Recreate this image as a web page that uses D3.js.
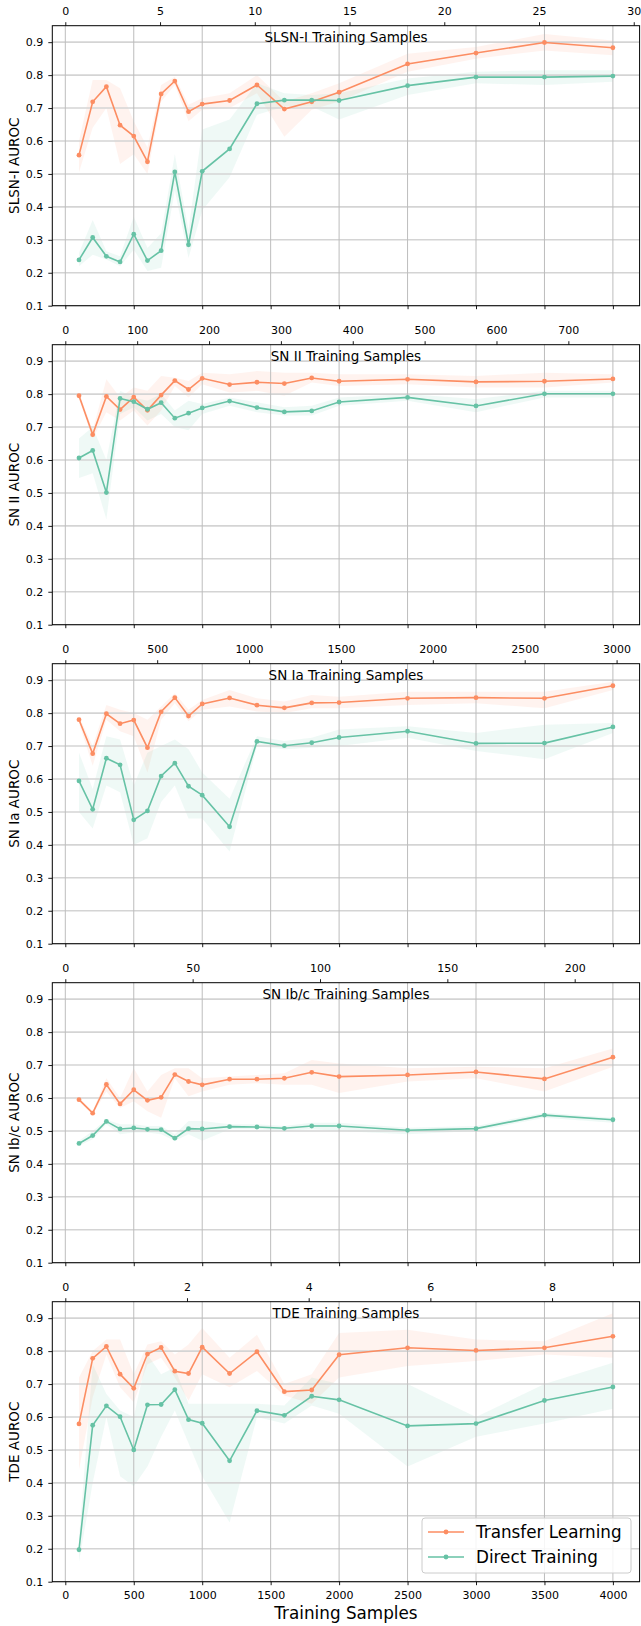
<!DOCTYPE html>
<html>
<head>
<meta charset="utf-8">
<script src="https://cdn.jsdelivr.net/npm/d3@7"></script>
<style>
  body { margin: 0; background: #fff; }
  svg text { font-family: 'DejaVu Sans', sans-serif; fill: #000; }
</style>
</head>
<body>
<svg id="chart"></svg>
<script>
// total training samples (bottom axis)
const trainingSamples = [100, 200, 300, 400, 500, 600, 700, 800, 900, 1000, 1200, 1400, 1600, 1800, 2000, 2500, 3000, 3500, 4000];
const bottomTicks = [0, 500, 1000, 1500, 2000, 2500, 3000, 3500, 4000];
const yTicks = [0.1, 0.2, 0.3, 0.4, 0.5, 0.6, 0.7, 0.8, 0.9];

const classNames = ['SLSN-I', 'SN II', 'SN Ia', 'SN Ib/c', 'TDE'];
// class samples that match 4000 total samples (top axis)
const classSamplesAt4000 = [28.9, 762, 2980, 215, 9.0];
const topTicks = [
  [0, 5, 10, 15, 20, 25, 30],
  [0, 100, 200, 300, 400, 500, 600, 700],
  [0, 500, 1000, 1500, 2000, 2500, 3000],
  [0, 50, 100, 150, 200],
  [0, 2, 4, 6, 8]
];

// SLSN-I
const slsnTL   = [0.557, 0.719, 0.765, 0.648, 0.615, 0.537, 0.743, 0.782, 0.689, 0.712, 0.723, 0.770, 0.697, 0.719, 0.748, 0.834, 0.867, 0.899, 0.883];
const slsnTLlo = [0.505, 0.64, 0.70, 0.53, 0.56, 0.50, 0.72, 0.77, 0.66, 0.695, 0.70, 0.745, 0.613, 0.695, 0.72, 0.81, 0.85, 0.875, 0.86];
const slsnTLhi = [0.60, 0.785, 0.785, 0.76, 0.66, 0.58, 0.77, 0.795, 0.71, 0.73, 0.745, 0.80, 0.72, 0.745, 0.775, 0.865, 0.885, 0.925, 0.905];
const slsnDT   = [0.239, 0.307, 0.250, 0.233, 0.317, 0.237, 0.267, 0.506, 0.285, 0.508, 0.576, 0.713, 0.724, 0.724, 0.723, 0.768, 0.794, 0.794, 0.797];
const slsnDTlo = [0.22, 0.255, 0.24, 0.22, 0.27, 0.205, 0.215, 0.45, 0.245, 0.39, 0.49, 0.68, 0.705, 0.705, 0.665, 0.74, 0.775, 0.77, 0.78];
const slsnDThi = [0.26, 0.36, 0.265, 0.25, 0.37, 0.275, 0.32, 0.56, 0.33, 0.635, 0.665, 0.775, 0.745, 0.74, 0.745, 0.79, 0.81, 0.815, 0.815];

// SN II
const sn2TL   = [0.795, 0.677, 0.793, 0.753, 0.791, 0.751, 0.797, 0.841, 0.814, 0.848, 0.829, 0.836, 0.832, 0.849, 0.839, 0.845, 0.837, 0.839, 0.846];
const sn2TLlo = [0.785, 0.665, 0.745, 0.72, 0.75, 0.705, 0.75, 0.825, 0.79, 0.83, 0.805, 0.81, 0.795, 0.835, 0.825, 0.83, 0.82, 0.82, 0.835];
const sn2TLhi = [0.805, 0.69, 0.845, 0.79, 0.82, 0.81, 0.855, 0.85, 0.84, 0.865, 0.86, 0.87, 0.865, 0.865, 0.86, 0.86, 0.855, 0.865, 0.86];
const sn2DT   = [0.606, 0.629, 0.501, 0.787, 0.777, 0.754, 0.774, 0.727, 0.742, 0.758, 0.779, 0.759, 0.746, 0.749, 0.776, 0.790, 0.764, 0.801, 0.801];
const sn2DTlo = [0.545, 0.56, 0.42, 0.74, 0.76, 0.72, 0.74, 0.70, 0.69, 0.74, 0.765, 0.745, 0.735, 0.735, 0.765, 0.78, 0.745, 0.79, 0.79];
const sn2DThi = [0.665, 0.70, 0.60, 0.81, 0.79, 0.78, 0.80, 0.75, 0.78, 0.77, 0.79, 0.775, 0.76, 0.765, 0.79, 0.80, 0.785, 0.81, 0.81];

// SN Ia
const sn1aTL   = [0.780, 0.677, 0.798, 0.768, 0.779, 0.695, 0.804, 0.847, 0.791, 0.828, 0.846, 0.824, 0.816, 0.831, 0.832, 0.845, 0.847, 0.845, 0.883];
const sn1aTLlo = [0.77, 0.64, 0.78, 0.745, 0.73, 0.62, 0.78, 0.83, 0.775, 0.81, 0.82, 0.805, 0.80, 0.815, 0.815, 0.825, 0.83, 0.815, 0.87];
const sn1aTLhi = [0.79, 0.70, 0.825, 0.81, 0.80, 0.78, 0.82, 0.86, 0.81, 0.84, 0.87, 0.845, 0.835, 0.855, 0.85, 0.865, 0.865, 0.865, 0.895];
const sn1aDT   = [0.594, 0.508, 0.663, 0.643, 0.476, 0.503, 0.609, 0.648, 0.578, 0.551, 0.455, 0.714, 0.701, 0.710, 0.726, 0.745, 0.708, 0.709, 0.758];
const sn1aDTlo = [0.50, 0.45, 0.58, 0.56, 0.40, 0.42, 0.53, 0.58, 0.48, 0.48, 0.38, 0.70, 0.69, 0.695, 0.70, 0.725, 0.685, 0.66, 0.74];
const sn1aDThi = [0.68, 0.57, 0.73, 0.72, 0.58, 0.68, 0.70, 0.72, 0.69, 0.62, 0.54, 0.73, 0.715, 0.725, 0.75, 0.76, 0.74, 0.765, 0.77];

// SN Ib/c
const sn1bcTL   = [0.595, 0.554, 0.641, 0.582, 0.625, 0.593, 0.602, 0.671, 0.650, 0.640, 0.657, 0.657, 0.660, 0.678, 0.665, 0.670, 0.679, 0.658, 0.724];
const sn1bcTLlo = [0.59, 0.55, 0.62, 0.57, 0.59, 0.56, 0.54, 0.66, 0.605, 0.62, 0.64, 0.645, 0.64, 0.64, 0.615, 0.65, 0.66, 0.62, 0.695];
const sn1bcTLhi = [0.60, 0.56, 0.66, 0.60, 0.69, 0.62, 0.67, 0.69, 0.69, 0.66, 0.665, 0.67, 0.675, 0.715, 0.705, 0.69, 0.695, 0.69, 0.75];
const sn1bcDT   = [0.462, 0.486, 0.529, 0.506, 0.509, 0.505, 0.504, 0.478, 0.507, 0.506, 0.513, 0.512, 0.508, 0.515, 0.515, 0.502, 0.507, 0.548, 0.534];
const sn1bcDTlo = [0.455, 0.475, 0.52, 0.49, 0.495, 0.495, 0.49, 0.47, 0.49, 0.47, 0.505, 0.505, 0.50, 0.505, 0.50, 0.49, 0.50, 0.54, 0.525];
const sn1bcDThi = [0.47, 0.50, 0.535, 0.52, 0.52, 0.515, 0.515, 0.49, 0.53, 0.53, 0.52, 0.52, 0.515, 0.525, 0.525, 0.51, 0.515, 0.555, 0.54];

// TDE
const tdeTL   = [0.579, 0.778, 0.814, 0.730, 0.687, 0.791, 0.811, 0.739, 0.732, 0.812, 0.732, 0.798, 0.677, 0.682, 0.789, 0.810, 0.802, 0.810, 0.845];
const tdeTLlo = [0.44, 0.66, 0.79, 0.69, 0.645, 0.76, 0.78, 0.72, 0.65, 0.73, 0.69, 0.74, 0.665, 0.64, 0.72, 0.755, 0.77, 0.79, 0.78];
const tdeTLhi = [0.72, 0.80, 0.835, 0.835, 0.73, 0.82, 0.83, 0.79, 0.82, 0.87, 0.78, 0.85, 0.70, 0.73, 0.855, 0.865, 0.835, 0.83, 0.915];
const tdeDT   = [0.197, 0.575, 0.634, 0.601, 0.500, 0.637, 0.638, 0.683, 0.592, 0.581, 0.467, 0.619, 0.605, 0.663, 0.652, 0.573, 0.580, 0.650, 0.691];
const tdeDTlo = [0.16, 0.40, 0.60, 0.42, 0.39, 0.45, 0.54, 0.62, 0.52, 0.42, 0.28, 0.60, 0.58, 0.635, 0.61, 0.45, 0.54, 0.58, 0.625];
const tdeDThi = [0.23, 0.76, 0.67, 0.62, 0.60, 0.79, 0.73, 0.75, 0.64, 0.64, 0.64, 0.64, 0.635, 0.72, 0.70, 0.70, 0.60, 0.70, 0.765];

const seriesNames = ['Transfer Learning', 'Direct Training'];
const colors = ['#fc8d62', '#66c2a5'];

// build panels from the arrays above
const panels = [
  [slsnTL, slsnTLlo, slsnTLhi, slsnDT, slsnDTlo, slsnDThi],
  [sn2TL, sn2TLlo, sn2TLhi, sn2DT, sn2DTlo, sn2DThi],
  [sn1aTL, sn1aTLlo, sn1aTLhi, sn1aDT, sn1aDTlo, sn1aDThi],
  [sn1bcTL, sn1bcTLlo, sn1bcTLhi, sn1bcDT, sn1bcDTlo, sn1bcDThi],
  [tdeTL, tdeTLlo, tdeTLhi, tdeDT, tdeDTlo, tdeDThi]
].map((arr, i) => ({
  name: classNames[i],
  ratio: classSamplesAt4000[i] / 4000,
  ticks: topTicks[i],
  series: [0, 1].map(s => trainingSamples.map((x, j) => ({
    x: x, y: arr[s * 3][j], lo: arr[s * 3 + 1][j], hi: arr[s * 3 + 2][j]
  })))
}));

const config = {
  width: 641, height: 1626,
  left: 52.3, right: 639.6,
  firstTop: 25.7, panelHeight: 280, panelStep: 319
};

const svg = d3.select('#chart')
  .attr('width', config.width)
  .attr('height', config.height);

const xDomain = [-95, 4195];
const x = d3.scaleLinear().domain(xDomain).range([config.left, config.right]);

panels.forEach((p, i) => {
  const top = config.firstTop + i * config.panelStep;
  const bottom = top + config.panelHeight;
  const y = d3.scaleLinear().domain([0.1, 0.95]).range([bottom, top]);
  const xTop = d3.scaleLinear()
    .domain([xDomain[0] * p.ratio, xDomain[1] * p.ratio])
    .range([config.left, config.right]);

  const g = svg.append('g');

  // confidence bands
  p.series.forEach((s, k) => {
    g.append('path')
      .datum(s)
      .attr('fill', colors[k])
      .attr('fill-opacity', 0.1)
      .attr('d', d3.area().x(d => x(d.x)).y0(d => y(d.lo)).y1(d => y(d.hi)));
  });

  // grid
  g.selectAll('.hgrid').data(yTicks).join('line')
    .attr('x1', config.left).attr('x2', config.right)
    .attr('y1', d => y(d)).attr('y2', d => y(d))
    .attr('stroke', '#d4d4d4').attr('stroke-width', 1.6);
  g.selectAll('.vgrid').data(bottomTicks).join('line')
    .attr('y1', top).attr('y2', bottom)
    .attr('x1', d => x(d)).attr('x2', d => x(d))
    .attr('stroke', '#bdbdbd').attr('stroke-width', 1);

  // lines and markers
  p.series.forEach((s, k) => {
    g.append('path')
      .datum(s)
      .attr('fill', 'none')
      .attr('stroke', colors[k])
      .attr('stroke-width', 1.6)
      .attr('d', d3.line().x(d => x(d.x)).y(d => y(d.y)));
    g.selectAll('.dot' + k).data(s).join('circle')
      .attr('cx', d => x(d.x)).attr('cy', d => y(d.y))
      .attr('r', 2.4).attr('fill', colors[k]);
  });

  // axes
  const yAxis = g.append('g')
    .attr('transform', `translate(${config.left},0)`)
    .call(d3.axisLeft(y).tickValues(yTicks).tickFormat(d3.format('.1f'))
      .tickSize(4).tickSizeOuter(0).tickPadding(5));
  const bottomAxis = g.append('g')
    .attr('transform', `translate(0,${bottom})`)
    .call(d3.axisBottom(x).tickValues(bottomTicks).tickSize(3.5).tickSizeOuter(0).tickPadding(5.8)
      .tickFormat(i === panels.length - 1 ? d3.format('d') : ''));
  const topAxis = g.append('g')
    .attr('transform', `translate(0,${top})`)
    .call(d3.axisTop(xTop).tickValues(p.ticks).tickSize(3.5).tickSizeOuter(0).tickPadding(7)
      .tickFormat(d3.format('d')));
  [yAxis, bottomAxis, topAxis].forEach(a => {
    a.selectAll('text').style('font-size', '11px').attr('fill', '#000');
    a.selectAll('.tick line').attr('stroke', '#000').attr('stroke-width', 0.9);
    a.select('.domain').remove();
  });

  // frame
  g.append('rect')
    .attr('x', config.left).attr('y', top)
    .attr('width', config.right - config.left).attr('height', config.panelHeight)
    .attr('fill', 'none').attr('stroke', '#000').attr('stroke-width', 1);

  // panel title inside the axes
  g.append('text')
    .attr('x', (config.left + config.right) / 2)
    .attr('y', top + 16.5)
    .attr('text-anchor', 'middle')
    .style('font-size', '13.5px')
    .text(p.name + ' Training Samples');

  // y label
  g.append('text')
    .attr('transform', `translate(19.2,${(top + bottom) / 2}) rotate(-90)`)
    .attr('text-anchor', 'middle')
    .style('font-size', '13.5px')
    .text(p.name + ' AUROC');
});

// x label
svg.append('text')
  .attr('x', (config.left + config.right) / 2)
  .attr('y', 1619)
  .attr('text-anchor', 'middle')
  .style('font-size', '16.8px')
  .text('Training Samples');

// legend
const legend = svg.append('g').attr('transform', 'translate(422,1518)');
legend.append('rect')
  .attr('width', 209).attr('height', 55).attr('rx', 3)
  .attr('fill', '#fff').attr('fill-opacity', 0.85)
  .attr('stroke', '#cccccc').attr('stroke-width', 1);
seriesNames.forEach((name, k) => {
  const row = legend.append('g').attr('transform', `translate(0,${14 + k * 25})`);
  row.append('line')
    .attr('x1', 6).attr('x2', 42)
    .attr('stroke', colors[k]).attr('stroke-width', 1.6);
  row.append('circle').attr('cx', 24).attr('r', 2.4).attr('fill', colors[k]);
  row.append('text')
    .attr('x', 54).attr('y', 6)
    .style('font-size', '16.8px')
    .text(name);
});
</script>
</body>
</html>
